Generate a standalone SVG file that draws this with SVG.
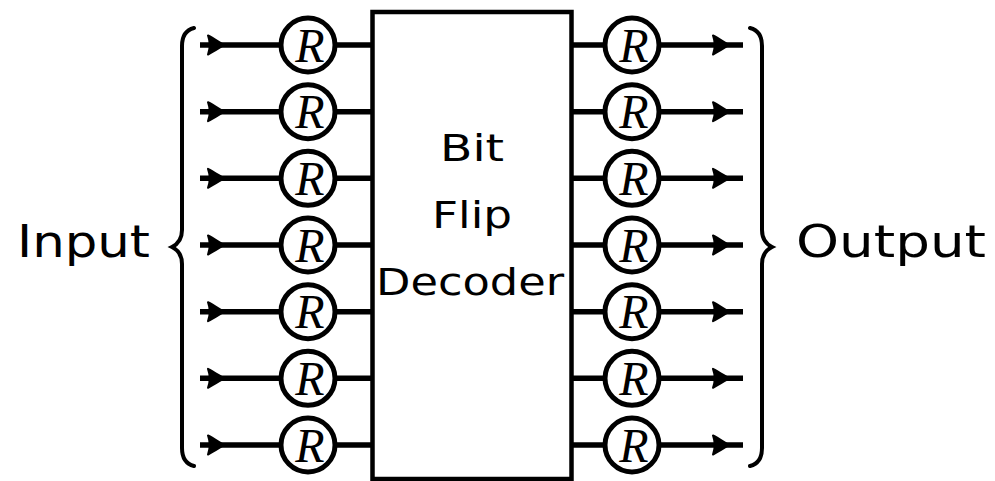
<svg xmlns="http://www.w3.org/2000/svg" width="995" height="481" viewBox="0 0 995 481">
<defs>
<style>
.w{fill:none;stroke:#000;stroke-width:5.5}
.c{fill:#fff;stroke:#000;stroke-width:5}
.b{fill:none;stroke:#000;stroke-width:4;stroke-linecap:round}
.r{font-family:"Liberation Serif",serif;font-style:italic;font-size:48px;text-anchor:middle;fill:#000}
.t{font-family:"DejaVu Sans","Liberation Sans",sans-serif;fill:#000}
.a{fill:#000;stroke:#000;stroke-width:2;stroke-linejoin:round}
</style>
<path id="ah" class="a" d="M2,0 C-3,-3 -9,-7 -14,-9.5 C-12,-4 -12,4 -14,9.5 C-9,7 -3,3 2,0 Z"/>
<g id="rin"><circle class="c" cx="0" cy="0" r="27"/><text class="r" x="2" y="16.5">R</text></g>
</defs>
<rect width="995" height="481" fill="#fff"/>
<g id="connectors">
<path class="w" d="M200,45 H282 M200,111.7 H282 M200,178.3 H282 M200,245 H282 M200,311.7 H282 M200,378.3 H282 M200,445 H282"/>
<path class="w" d="M334,45 H373 M334,111.7 H373 M334,178.3 H373 M334,245 H373 M334,311.7 H373 M334,378.3 H373 M334,445 H373"/>
<path class="w" d="M572,45 H606 M572,111.7 H606 M572,178.3 H606 M572,245 H606 M572,311.7 H606 M572,378.3 H606 M572,445 H606"/>
<path class="w" d="M658,45 H743 M658,111.7 H743 M658,178.3 H743 M658,245 H743 M658,311.7 H743 M658,378.3 H743 M658,445 H743"/>
<use href="#ah" x="222" y="45"/>
<use href="#ah" x="222" y="111.7"/>
<use href="#ah" x="222" y="178.3"/>
<use href="#ah" x="222" y="245"/>
<use href="#ah" x="222" y="311.7"/>
<use href="#ah" x="222" y="378.3"/>
<use href="#ah" x="222" y="445"/>
<use href="#ah" x="727" y="45"/>
<use href="#ah" x="727" y="111.7"/>
<use href="#ah" x="727" y="178.3"/>
<use href="#ah" x="727" y="245"/>
<use href="#ah" x="727" y="311.7"/>
<use href="#ah" x="727" y="378.3"/>
<use href="#ah" x="727" y="445"/>
</g>
<g id="decoder">
<rect x="372.5" y="12" width="199" height="467" fill="none" stroke="#000" stroke-width="4.5"/>
<text class="t" x="472" y="161" font-size="38" text-anchor="middle" textLength="64" lengthAdjust="spacingAndGlyphs">Bit</text>
<text class="t" x="472" y="228" font-size="38" text-anchor="middle" textLength="80" lengthAdjust="spacingAndGlyphs">Flip</text>
<text class="t" x="470" y="295" font-size="38" text-anchor="middle" textLength="188" lengthAdjust="spacingAndGlyphs">Decoder</text>
</g>
<g id="input">
<path class="b" d="M194,28 C186,30 182,36 182,46 L182,230 C182,238 178,244 172,247 C178,250 182,256 182,264 L182,448 C182,458 186,464 194,466"/>
<text class="t" x="17" y="257" font-size="44" textLength="133" lengthAdjust="spacingAndGlyphs">Input</text>
</g>
<g id="output">
<path class="b" d="M750,28 C758,30 762,36 762,46 L762,230 C762,238 766,244 772,247 C766,250 762,256 762,264 L762,448 C762,458 758,464 750,466"/>
<text class="t" x="796" y="257" font-size="44" textLength="190" lengthAdjust="spacingAndGlyphs">Output</text>
</g>
<g id="r-in-1"><use href="#rin" x="308" y="45"/></g>
<g id="r-in-2"><use href="#rin" x="308" y="111.7"/></g>
<g id="r-in-3"><use href="#rin" x="308" y="178.3"/></g>
<g id="r-in-4"><use href="#rin" x="308" y="245"/></g>
<g id="r-in-5"><use href="#rin" x="308" y="311.7"/></g>
<g id="r-in-6"><use href="#rin" x="308" y="378.3"/></g>
<g id="r-in-7"><use href="#rin" x="308" y="445"/></g>
<g id="r-out-1"><use href="#rin" x="632" y="45"/></g>
<g id="r-out-2"><use href="#rin" x="632" y="111.7"/></g>
<g id="r-out-3"><use href="#rin" x="632" y="178.3"/></g>
<g id="r-out-4"><use href="#rin" x="632" y="245"/></g>
<g id="r-out-5"><use href="#rin" x="632" y="311.7"/></g>
<g id="r-out-6"><use href="#rin" x="632" y="378.3"/></g>
<g id="r-out-7"><use href="#rin" x="632" y="445"/></g>
</svg>
